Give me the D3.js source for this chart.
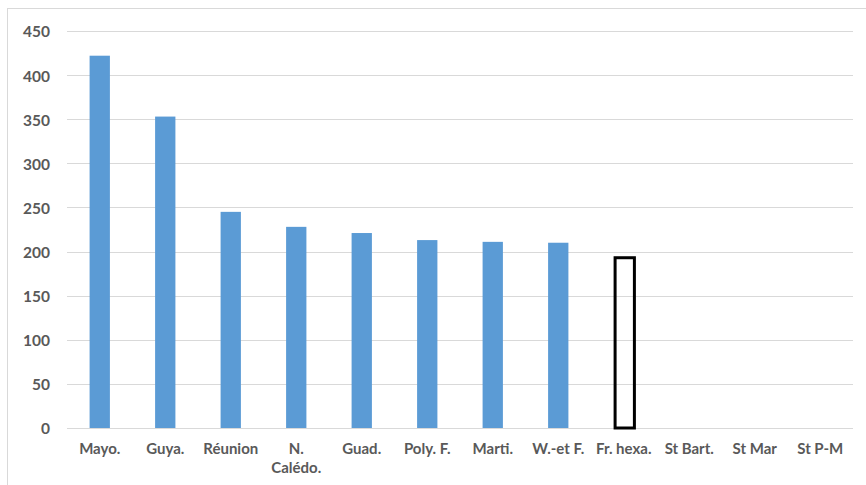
<!DOCTYPE html>
<html>
<head>
<meta charset="utf-8">
<script src="https://cdn.jsdelivr.net/npm/d3@7"></script>
<style>
  html, body { margin: 0; padding: 0; background: #fff; }
  svg { display: block; }
  text { font-family: Lato, "Open Sans", sans-serif; font-weight: bold; fill: #595959; }
</style>
</head>
<body>
<svg id="chart" width="866" height="485"></svg>
<script>
// Territories (x-axis categories)
const categories = ["Mayo.", "Guya.", "Réunion", "N. Calédo.", "Guad.", "Poly. F.", "Marti.", "W.-et F.", "Fr. hexa.", "St Bart.", "St Mar", "St P-M"];
// Values per territory (null = no data shown)
const values = [422, 353, 245, 228, 221, 213, 211, 210, 193, null, null, null];
// The reference territory drawn as an outlined bar
const highlighted = ["Fr. hexa."];
// Y-axis ticks
const yTicks = [0, 50, 100, 150, 200, 250, 300, 350, 400, 450];

const svg = d3.select("#chart");
const W = 866, H = 485;
const m = { left: 67, right: 13, top: 31, bottom: 57 };

// Chart area frame (extends past the right and bottom edges)
svg.append("rect")
  .attr("x", 7.5).attr("y", 8.5)
  .attr("width", W + 10).attr("height", H + 10)
  .attr("fill", "none").attr("stroke", "#D9D9D9").attr("stroke-width", 1);

const x = d3.scaleBand()
  .domain(categories)
  .range([m.left, W - m.right])
  .paddingInner(0.69).paddingOuter(0.345);

const y = d3.scaleLinear()
  .domain([0, 450])
  .range([H - m.bottom, m.top]);

// Gridlines
svg.append("g")
  .selectAll("line")
  .data(yTicks)
  .join("line")
  .attr("x1", m.left).attr("x2", W - m.right)
  .attr("y1", d => Math.round(y(d)) + 0.5).attr("y2", d => Math.round(y(d)) + 0.5)
  .attr("stroke", "#D9D9D9").attr("stroke-width", 1);

// Y axis labels
const yAxis = d3.axisLeft(y).tickValues(yTicks).tickSize(0).tickPadding(0);
const gy = svg.append("g").attr("transform", `translate(${m.left - 17},1)`).call(yAxis);
gy.select(".domain").remove();
gy.selectAll("text").attr("font-size", 15.5).style("font-family", "Lato, 'Open Sans', sans-serif").attr("fill", "#595959");

const data = categories.map((c, i) => ({ c, v: values[i] })).filter(d => d.v != null);

// Filled bars
svg.append("g")
  .selectAll("rect")
  .data(data.filter(d => !highlighted.includes(d.c)))
  .join("rect")
  .attr("x", d => x(d.c))
  .attr("width", x.bandwidth())
  .attr("y", d => y(d.v))
  .attr("height", d => y(0) - y(d.v))
  .attr("fill", "#5B9BD5");

// Outlined bar
svg.append("g")
  .selectAll("rect")
  .data(data.filter(d => highlighted.includes(d.c)))
  .join("rect")
  .attr("x", d => x(d.c) + 1.5)
  .attr("width", x.bandwidth() - 1)
  .attr("y", d => y(d.v))
  .attr("height", d => y(0) - y(d.v))
  .attr("fill", "none")
  .attr("stroke", "#000")
  .attr("stroke-width", 3);

// X axis labels (wrapped for "N. Calédo.")
const xl = svg.append("g");
categories.forEach(c => {
  const lines = c === "N. Calédo." ? ["N.", "Calédo."] : [c];
  const t = xl.append("text")
    .attr("x", x(c) + x.bandwidth() / 2)
    .attr("y", 454)
    .attr("text-anchor", "middle")
    .attr("font-size", 15);
  lines.forEach((l, i) => t.append("tspan")
    .attr("x", x(c) + x.bandwidth() / 2)
    .attr("dy", i === 0 ? 0 : 19)
    .text(l));
});
</script>
</body>
</html>
